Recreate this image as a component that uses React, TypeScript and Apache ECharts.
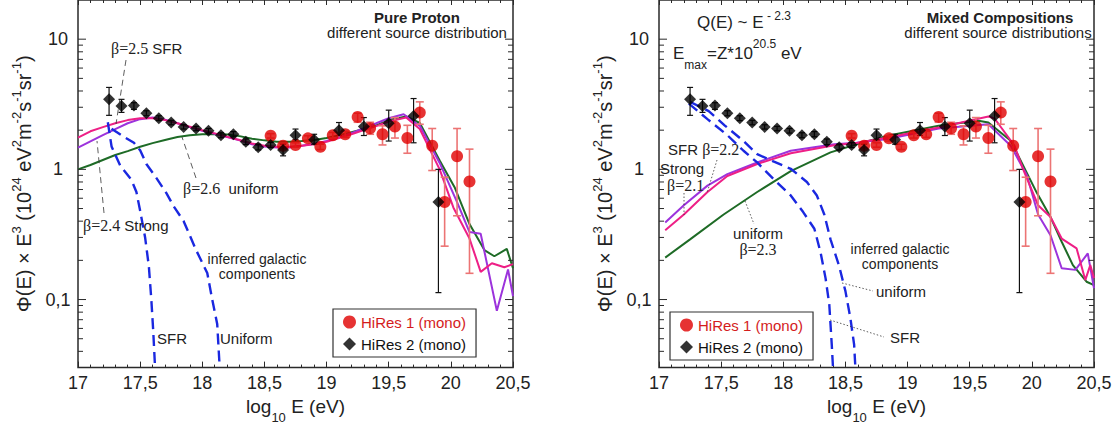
import React, { useEffect, useRef } from 'react';
import * as echarts from 'echarts';

const FONT = "'Liberation Sans', Arial, Helvetica, sans-serif";
const SERIF = "'Liberation Serif', 'Times New Roman', serif";

// HiRes 2 (mono) – black diamonds
const hires2X = [17.25, 17.35, 17.45, 17.55, 17.65, 17.75, 17.85, 17.95, 18.05, 18.15, 18.25, 18.35, 18.45, 18.55, 18.65, 18.75, 18.9, 19.1, 19.3, 19.5, 19.7, 19.9];
const hires2Y = [3.45, 3.07, 3.1, 2.7, 2.47, 2.29, 2.12, 2.06, 1.98, 1.83, 1.86, 1.63, 1.48, 1.54, 1.41, 1.83, 1.69, 2.0, 2.13, 2.26, 2.57, 0.561];
const hires2Lo = [2.6, 2.74, 2.89, 2.58, 2.37, 2.2, 2.04, 1.98, 1.9, 1.75, 1.78, 1.55, 1.41, 1.47, 1.27, 1.69, 1.56, 1.82, 1.82, 1.65, 1.6, 0.113];
const hires2Hi = [4.26, 3.45, 3.25, 2.82, 2.58, 2.38, 2.2, 2.14, 2.06, 1.91, 1.95, 1.71, 1.56, 1.61, 1.56, 2.04, 1.86, 2.29, 2.5, 2.85, 3.5, 1.0];

// HiRes 1 (mono) – red circles
const hires1X = [18.55, 18.65, 18.75, 18.85, 18.95, 19.05, 19.15, 19.25, 19.35, 19.45, 19.55, 19.65, 19.75, 19.85, 19.95, 20.05, 20.15];
const hires1Y = [1.81, 1.52, 1.54, 1.73, 1.49, 1.83, 1.86, 2.53, 2.07, 1.86, 2.13, 1.74, 2.73, 1.52, 0.561, 1.26, 0.806];
const hires1Lo = [1.74, 1.46, 1.48, 1.65, 1.42, 1.74, 1.76, 2.3, 1.86, 1.54, 1.74, 1.33, 2.22, 0.98, 0.257, 0.44, 0.159];
const hires1Hi = [1.88, 1.58, 1.6, 1.81, 1.56, 1.92, 1.96, 2.7, 2.3, 2.16, 2.5, 2.18, 3.3, 2.06, 0.87, 2.06, 1.43];

// Pure proton models
const ppSfr = [[17.0, 1.75], [17.1, 1.96], [17.2, 2.11], [17.3, 2.26], [17.4, 2.39], [17.5, 2.47], [17.6, 2.47], [17.7, 2.39], [17.8, 2.26], [17.9, 2.13], [18.0, 2.0], [18.1, 1.89], [18.2, 1.78], [18.3, 1.68], [18.4, 1.58], [18.5, 1.52], [18.6, 1.49], [18.7, 1.49], [18.8, 1.52], [18.9, 1.56], [19.0, 1.63], [19.1, 1.74], [19.2, 1.86], [19.3, 2.0], [19.4, 2.15], [19.5, 2.33], [19.64, 2.5], [19.75, 2.04], [19.91, 1.0], [20.02, 0.51], [20.15, 0.294], [20.24, 0.163], [20.33, 0.19], [20.43, 0.177], [20.5, 0.187]];
const ppStrong = [[17.0, 1.47], [17.1, 1.64], [17.2, 1.83], [17.3, 2.04], [17.4, 2.26], [17.5, 2.43], [17.6, 2.5], [17.7, 2.41], [17.8, 2.26], [17.9, 2.11], [18.0, 1.98], [18.1, 1.88], [18.2, 1.77], [18.3, 1.67], [18.4, 1.56], [18.5, 1.5], [18.6, 1.47], [18.7, 1.47], [18.8, 1.52], [18.9, 1.57], [19.0, 1.65], [19.1, 1.76], [19.2, 1.9], [19.3, 2.07], [19.4, 2.26], [19.5, 2.47], [19.62, 2.65], [19.75, 2.16], [19.91, 1.12], [20.05, 0.56], [20.15, 0.33], [20.24, 0.32], [20.37, 0.082], [20.46, 0.17], [20.5, 0.106]];
const ppUni = [[17.0, 1.0], [17.1, 1.08], [17.2, 1.18], [17.3, 1.29], [17.4, 1.38], [17.5, 1.49], [17.6, 1.59], [17.7, 1.68], [17.8, 1.77], [17.9, 1.83], [18.0, 1.86], [18.1, 1.86], [18.2, 1.85], [18.3, 1.8], [18.4, 1.72], [18.5, 1.67], [18.6, 1.63], [18.7, 1.63], [18.8, 1.65], [18.9, 1.68], [19.0, 1.74], [19.1, 1.83], [19.2, 1.93], [19.3, 2.04], [19.4, 2.18], [19.5, 2.39], [19.64, 2.55], [19.75, 2.27], [19.91, 1.17], [20.03, 0.73], [20.15, 0.38], [20.27, 0.24], [20.35, 0.215], [20.45, 0.245], [20.5, 0.174]];
const ppGalSfr = [[17.24, 2.3], [17.27, 1.5], [17.34, 1.07], [17.43, 0.83], [17.47, 0.67], [17.5, 0.48], [17.54, 0.3], [17.57, 0.18], [17.59, 0.1], [17.605, 0.058], [17.62, 0.03]];
const ppGalUni = [[17.27, 2.05], [17.36, 1.8], [17.45, 1.6], [17.5, 1.4], [17.55, 1.1], [17.63, 0.86], [17.71, 0.66], [17.77, 0.52], [17.85, 0.4], [17.95, 0.24], [18.04, 0.16], [18.08, 0.1], [18.12, 0.065], [18.14, 0.03]];

// Mixed composition models
const mxSfr = [[17.05, 0.34], [17.2, 0.45], [17.39, 0.67], [17.55, 0.89], [17.79, 1.1], [18.06, 1.33], [18.41, 1.53], [18.6, 1.6], [18.84, 1.76], [19.25, 2.1], [19.65, 2.55], [19.7, 2.46], [19.86, 1.52], [19.93, 1.0], [20.05, 0.53], [20.15, 0.43], [20.24, 0.294], [20.36, 0.247], [20.43, 0.141], [20.47, 0.184], [20.5, 0.146]];
const mxStrong = [[17.05, 0.39], [17.2, 0.53], [17.39, 0.75], [17.55, 0.92], [17.79, 1.13], [18.06, 1.39], [18.41, 1.56], [18.59, 1.6], [18.84, 1.71], [19.25, 2.06], [19.65, 2.22], [19.83, 1.52], [19.96, 0.9], [20.05, 0.45], [20.15, 0.312], [20.24, 0.174], [20.35, 0.169], [20.45, 0.226], [20.5, 0.122]];
const mxUni = [[17.05, 0.21], [17.25, 0.29], [17.52, 0.45], [17.79, 0.67], [18.06, 0.97], [18.38, 1.35], [18.59, 1.56], [18.84, 1.81], [19.25, 2.16], [19.57, 2.36], [19.65, 2.29], [19.83, 1.66], [20.04, 0.66], [20.15, 0.43], [20.24, 0.278], [20.33, 0.184], [20.44, 0.137], [20.5, 0.129]];
const mxGalSfr = [[17.24, 3.2], [17.39, 2.43], [17.55, 1.83], [17.68, 1.39], [17.79, 1.13], [17.92, 0.845], [18.06, 0.63], [18.16, 0.47], [18.25, 0.35], [18.3, 0.23], [18.34, 0.146], [18.37, 0.092], [18.39, 0.045], [18.4, 0.03]];
const mxGalUni = [[17.25, 3.3], [17.4, 2.8], [17.53, 2.17], [17.68, 1.65], [17.79, 1.31], [17.92, 1.15], [18.06, 1.01], [18.19, 0.8], [18.27, 0.63], [18.33, 0.45], [18.38, 0.29], [18.45, 0.18], [18.5, 0.116], [18.54, 0.072], [18.57, 0.045], [18.58, 0.03]];

// Axis ticks
const yMajorTicks = [0.1, 1, 10];
const yMinorTicks = [0.04, 0.05, 0.06, 0.07, 0.08, 0.09, 0.2, 0.3, 0.4, 0.5, 0.6, 0.7, 0.8, 0.9, 2, 3, 4, 5, 6, 7, 8, 9];

const C_MAG = '#ee1f86';
const C_PUR = '#9c33dc';
const C_GRN = '#1e6b26';
const C_BLUE = '#1a28e0';
const C_RED = '#e00000';
const C_REDERR = '#ec7474';
const C_AX = '#2a2a2a';

const X_MIN = 17;
const X_MAX = 20.5;

function fmtX(v: number) {
  const s = String(Math.round(v * 10) / 10);
  return s.replace('.', ',');
}
function fmtY(v: number) {
  const l = Math.log10(v);
  const e = Math.round(l);
  if (Math.abs(l - e) > 1e-6) return '';
  if (e >= 0) return String(Math.round(Math.pow(10, e)));
  if (e === -1) return '0,1';
  return String(Math.pow(10, e)).replace('.', ',');
}

function errRender(color: string, cap: number, width: number) {
  return (params: any, api: any) => {
    const x = api.value(0);
    const p1 = api.coord([x, api.value(1)]);
    const p2 = api.coord([x, api.value(2)]);
    const st = { stroke: color, lineWidth: width };
    return {
      type: 'group',
      children: [
        { type: 'line', shape: { x1: p1[0], y1: p1[1], x2: p2[0], y2: p2[1] }, style: st },
        { type: 'line', shape: { x1: p1[0] - cap, y1: p1[1], x2: p1[0] + cap, y2: p1[1] }, style: st },
        { type: 'line', shape: { x1: p2[0] - cap, y1: p2[1], x2: p2[0] + cap, y2: p2[1] }, style: st },
      ],
    };
  };
}

function tickRender(len: number) {
  return (params: any, api: any) => {
    const v = api.value(1);
    const pL = api.coord([X_MIN, v]);
    const pR = api.coord([X_MAX, v]);
    const st = { stroke: C_AX, lineWidth: 1 };
    return {
      type: 'group',
      children: [
        { type: 'line', shape: { x1: pL[0], y1: pL[1], x2: pL[0] + len, y2: pL[1] }, style: st },
        { type: 'line', shape: { x1: pR[0], y1: pR[1], x2: pR[0] - len, y2: pR[1] }, style: st },
      ],
    };
  };
}

function panelSeries(i: number, sfr: number[][], strong: number[][], uni: number[][], galSfr: number[][], galUni: number[][]) {
  const ax = { xAxisIndex: 2 * i, yAxisIndex: i };
  const line = (name: string, data: number[][], color: string, dashed = false) => ({
    type: 'line', name, ...ax, data, showSymbol: false, symbol: 'none', z: 2, silent: true,
    lineStyle: { color, width: dashed ? 2.4 : 2, type: dashed ? [11, 6] : 'solid' },
  });
  return [
    line('uniform', uni, C_GRN),
    line('strong', strong, C_PUR),
    line('sfr', sfr, C_MAG),
    line('gal sfr', galSfr, C_BLUE, true),
    line('gal uniform', galUni, C_BLUE, true),
    {
      type: 'custom', name: 'HiRes 1 err', ...ax, z: 3, silent: true,
      data: hires1X.map((x, k) => [x, hires1Lo[k], hires1Hi[k]]),
      encode: { x: 0, y: [1, 2] },
      renderItem: errRender(C_REDERR, 4, 1.6),
    },
    {
      type: 'custom', name: 'HiRes 2 err', ...ax, z: 3, silent: true,
      data: hires2X.map((x, k) => [x, hires2Lo[k], hires2Hi[k]]),
      encode: { x: 0, y: [1, 2] },
      renderItem: errRender('#111', 3, 1.2),
    },
    {
      type: 'scatter', name: 'HiRes 1 (mono)', ...ax, z: 4,
      data: hires1X.map((x, k) => [x, hires1Y[k]]),
      symbol: 'circle', symbolSize: 12, itemStyle: { color: C_RED },
    },
    {
      type: 'scatter', name: 'HiRes 2 (mono)', ...ax, z: 5,
      data: hires2X.map((x, k) => [x, hires2Y[k]]),
      symbol: 'diamond', symbolSize: 12, itemStyle: { color: '#000' },
    },
    {
      type: 'custom', name: 'y major ticks', ...ax, z: 6, silent: true,
      data: yMajorTicks.map((v) => [X_MIN, v]), encode: { x: 0, y: 1 },
      renderItem: tickRender(8),
    },
    {
      type: 'custom', name: 'y minor ticks', ...ax, z: 6, silent: true,
      data: yMinorTicks.map((v) => [X_MIN, v]), encode: { x: 0, y: 1 },
      renderItem: tickRender(5),
    },
  ];
}

const GRID_LEFTS = [78, 659];

function txt(x: number, y: number, text: string, opts: any = {}) {
  return {
    type: 'text', x, y, silent: true, z: 50,
    style: {
      text,
      fill: opts.fill || '#222',
      font: `${opts.weight || 'normal'} ${opts.size || 15}px ${opts.family || FONT}`,
      textAlign: opts.align || 'left',
      textVerticalAlign: 'middle',
      rich: opts.rich,
    },
  };
}
function seg(x1: number, y1: number, x2: number, y2: number, dash: number[]) {
  return {
    type: 'line', silent: true, z: 50,
    shape: { x1, y1, x2, y2 },
    style: { stroke: '#333', lineWidth: 0.8, lineDash: dash },
  };
}

const betaRich = {
  g: { fontFamily: SERIF, fontSize: 16, fill: '#222', color: '#222' },
  t: { fontFamily: FONT, fontSize: 15, fill: '#222', color: '#222' },
};

function buildOption() {
  const xAxis: any[] = [];
  const yAxis: any[] = [];
  const grid: any[] = [];
  GRID_LEFTS.forEach((left, i) => {
    grid.push({ left, top: -1, width: 435, height: 371, show: true, borderColor: C_AX, borderWidth: 1.5, backgroundColor: 'transparent' });
    xAxis.push({
      type: 'value', gridIndex: i, position: 'bottom', min: X_MIN, max: X_MAX, interval: 0.5,
      axisLine: { show: false },
      axisTick: { show: true, inside: true, length: 6, lineStyle: { color: C_AX } },
      minorTick: { show: true, splitNumber: 5, length: 3, lineStyle: { color: C_AX } },
      splitLine: { show: false },
      axisLabel: { fontSize: 18, color: '#222', fontFamily: FONT, margin: 6, formatter: fmtX },
      name: '{m|log}{s|10}{m| E (eV)}',
      nameLocation: 'middle', nameGap: 17,
      nameTextStyle: {
        rich: {
          m: { fontSize: 19, fontFamily: FONT, color: '#222', lineHeight: 36 },
          s: { fontSize: 13, fontFamily: FONT, color: '#222', lineHeight: 14, verticalAlign: 'bottom' },
        },
      },
    });
    xAxis.push({
      type: 'value', gridIndex: i, position: 'top', min: X_MIN, max: X_MAX, interval: 0.5,
      axisLine: { show: false },
      axisTick: { show: true, inside: true, length: 5, lineStyle: { color: C_AX } },
      minorTick: { show: true, splitNumber: 5, length: 3, lineStyle: { color: C_AX } },
      splitLine: { show: false },
      axisLabel: { show: false },
    });
    yAxis.push({
      type: 'log', logBase: 10, gridIndex: i, min: 0.03, max: 20,
      axisLine: { show: false }, axisTick: { show: false }, splitLine: { show: false },
      minorTick: { show: false }, minorSplitLine: { show: false },
      axisLabel: { fontSize: 18, color: '#222', fontFamily: FONT, align: 'center', margin: 20, formatter: fmtY },
      name: '{m|Φ(E) × E}{s|3}{m| (10}{s|24}{m| eV}{s|2}{m|m}{s|-2}{m|s}{s|-1}{m|sr}{s|-1}{m|)}',
      nameLocation: 'middle', nameGap: 40,
      nameTextStyle: {
        rich: {
          m: { fontSize: 20, fontFamily: FONT, color: '#222', lineHeight: 28 },
          s: { fontSize: 13, fontFamily: FONT, color: '#222', lineHeight: 14, verticalAlign: 'top' },
        },
      },
    });
  });

  const legendBase = {
    orient: 'vertical', padding: [4, 10, 4, 10], itemGap: 4, itemWidth: 13, itemHeight: 13,
    borderColor: '#333', borderWidth: 1.2, backgroundColor: '#fff', selectedMode: false,
    textStyle: { fontSize: 15, fontFamily: FONT, lineHeight: 18 },
    data: [
      { name: 'HiRes 1 (mono)', icon: 'circle', textStyle: { color: '#d41c1c' } },
      { name: 'HiRes 2 (mono)', icon: 'diamond', textStyle: { color: '#111' } },
    ],
  };

  const graphic = [
    // Left panel annotations
    txt(417, 17, 'Pure Proton', { align: 'center', weight: 'bold' }),
    txt(417, 32, 'different source distribution', { align: 'center' }),
    txt(111, 48, '{g|β=2.5} {t|SFR}', { rich: betaRich }),
    txt(183, 188, '{g|β=2.6}  {t|uniform}', { rich: betaRich }),
    txt(83, 225, '{g|β=2.4} {t|Strong}', { rich: betaRich }),
    txt(257, 259, 'inferred galactic', { align: 'center', size: 14 }),
    txt(257, 274, 'components', { align: 'center', size: 14 }),
    txt(157, 338, 'SFR'),
    txt(220, 338, 'Uniform'),
    seg(126, 60, 116, 124, [6, 4]),
    seg(196, 178, 182, 137, [6, 4]),
    seg(104, 213, 97, 141, [6, 4]),
    // Right panel annotations
    txt(697, 22, '{m|Q(E) ~ E}{s| - 2.3}', {
      rich: {
        m: { fontFamily: FONT, fontSize: 17, fill: '#222', color: '#222', lineHeight: 24 },
        s: { fontFamily: FONT, fontSize: 12, fill: '#222', color: '#222', lineHeight: 12, verticalAlign: 'top' },
      },
    }),
    txt(673, 53, '{m|E}{b|max}{m|=Z*10}{s|20.5}{m| eV}', {
      rich: {
        m: { fontFamily: FONT, fontSize: 17, fill: '#222', color: '#222', lineHeight: 36 },
        s: { fontFamily: FONT, fontSize: 12, fill: '#222', color: '#222', lineHeight: 13, verticalAlign: 'top', padding: [3, 0, 0, 0] },
        b: { fontFamily: FONT, fontSize: 12, fill: '#222', color: '#222', lineHeight: 13, verticalAlign: 'bottom' },
      },
    }),
    txt(1000, 17, 'Mixed Compositions', { align: 'center', weight: 'bold' }),
    txt(998, 32, 'different source distributions', { align: 'center' }),
    txt(668, 149, '{t|SFR} {g|β=2.2}', { rich: betaRich }),
    txt(660, 168, 'Strong'),
    txt(667, 185, '{g|β=2.1}', { rich: betaRich }),
    txt(758, 233, 'uniform', { align: 'center' }),
    txt(758, 249, '{g|β=2.3}', { align: 'center', rich: betaRich }),
    txt(900, 249, 'inferred galactic', { align: 'center', size: 14 }),
    txt(900, 264, 'components', { align: 'center', size: 14 }),
    txt(876, 291, 'uniform'),
    txt(890, 337, 'SFR'),
    seg(717, 160, 707, 193, [1.5, 2]),
    seg(684, 193, 684, 215, [1.5, 2]),
    seg(745, 201, 754, 224, [1.5, 2]),
    seg(842, 283, 873, 291, [1.5, 2]),
    seg(830, 320, 884, 337, [1.5, 2]),
  ];

  return {
    animation: false,
    backgroundColor: '#fff',
    textStyle: { fontFamily: FONT },
    grid,
    xAxis,
    yAxis,
    legend: [
      { ...legendBase, left: 333, top: 309 },
      { ...legendBase, left: 670, top: 312 },
    ],
    graphic,
    series: [
      ...panelSeries(0, ppSfr, ppStrong, ppUni, ppGalSfr, ppGalUni),
      ...panelSeries(1, mxSfr, mxStrong, mxUni, mxGalSfr, mxGalUni),
    ],
  };
}

export default function App() {
  const ref = useRef<HTMLDivElement>(null);
  useEffect(() => {
    if (!ref.current) return;
    const chart = echarts.init(ref.current, null, { renderer: 'svg' });
    chart.setOption(buildOption() as any);
    return () => chart.dispose();
  }, []);
  return (
    <div
      ref={ref}
      style={{ position: 'fixed', left: 0, top: 0, width: 1118, height: 429, background: '#fff' }}
    />
  );
}
